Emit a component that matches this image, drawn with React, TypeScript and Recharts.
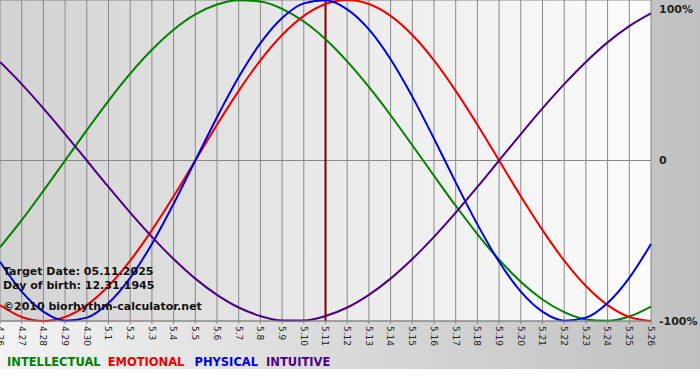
import { LineChart, Line, XAxis, YAxis, CartesianGrid, ReferenceLine } from "recharts";

const dates = [
  "4.26", "4.27", "4.28", "4.29", "4.30",
  "5.1", "5.2", "5.3", "5.4", "5.5", "5.6", "5.7", "5.8", "5.9", "5.10",
  "5.11", "5.12", "5.13", "5.14", "5.15", "5.16", "5.17", "5.18", "5.19", "5.20",
  "5.21", "5.22", "5.23", "5.24", "5.25", "5.26",
];

// percent values read per day
const intellectual = [-54.1, -37.2, -18.9, 0, 18.9, 37.2, 54.1, 69.0, 81.5, 91.0, 97.2, 99.9, 99.0, 94.5, 86.6, 75.6, 61.8, 45.8, 28.2, 9.5, -9.5, -28.2, -45.8, -61.8, -75.6, -86.6, -94.5, -99.0, -99.9, -97.2, -91.0];
const emotional = [-90.1, -97.5, -100, -97.5, -90.1, -78.2, -62.4, -43.4, -22.3, 0, 22.3, 43.4, 62.4, 78.2, 90.1, 97.5, 100, 97.5, 90.1, 78.2, 62.4, 43.4, 22.3, 0, -22.3, -43.4, -62.4, -78.2, -90.1, -97.5, -100];
const physical = [-63.1, -81.7, -94.2, -99.8, -97.9, -88.8, -73.1, -52.0, -27.0, 0, 27.0, 52.0, 73.1, 88.8, 97.9, 99.8, 94.2, 81.7, 63.1, 39.8, 13.6, -13.6, -39.8, -63.1, -81.7, -94.2, -99.8, -97.9, -88.8, -73.1, -52.0];
const intuitive = [61.4, 47.6, 32.5, 16.5, 0, -16.5, -32.5, -47.6, -61.4, -73.6, -83.7, -91.6, -96.9, -99.7, -99.7, -96.9, -91.6, -83.7, -73.6, -61.4, -47.6, -32.5, -16.5, 0, 16.5, 32.5, 47.6, 61.4, 73.6, 83.7, 91.6];

const yTicks = [-100, 0, 100];
const targetDate = "5.11";
const infoLines = ["Target Date: 05.11.2025", "Day of birth: 12.31.1945", "©2010 biorhythm-calculator.net"];

const series = [
  { key: "intellectual", name: "INTELLECTUAL", color: "#008000", gap: 7 },
  { key: "emotional", name: "EMOTIONAL", color: "#ee0000", gap: 10 },
  { key: "physical", name: "PHYSICAL", color: "#0000dd", gap: 8 },
  { key: "intuitive", name: "INTUITIVE", color: "#4b0082", gap: 0 },
];

const data = dates.map((d, i) => ({
  date: d,
  intellectual: intellectual[i],
  emotional: emotional[i],
  physical: physical[i],
  intuitive: intuitive[i],
}));

const font = "'DejaVu Sans', Verdana, sans-serif";

function DateTick(props: any) {
  const { x, y, payload } = props;
  return (
    <g transform={`translate(${x},${y})`}>
      <text transform="rotate(90)" dy="0.35em" textAnchor="start" fontSize={9} fill="#222" fontFamily={font}>
        {payload.value}
      </text>
    </g>
  );
}

function PctTick(props: any) {
  const { x, y, payload } = props;
  const v = payload.value;
  return (
    <text x={x} y={Math.max(y, 8)} dy="0.35em" textAnchor="start" fontSize={11} fontWeight="bold" fill="#222" fontFamily={font}>
      {v === 0 ? "0" : `${v}%`}
    </text>
  );
}

export default function App() {
  return (
    <div style={{
      position: "fixed",
      left: 0,
      top: 0,
      width: 700,
      height: 369,
      background: "linear-gradient(to right, #f2f2f2, #c0c0c0)",
    }}>
      <LineChart width={700} height={369} data={data} margin={{ top: 0, right: 0, left: 0, bottom: 0 }}>
        <defs>
          <linearGradient id="plotBg" x1="0" y1="0" x2="1" y2="0">
            <stop offset="0%" stopColor="#d2d2d2" />
            <stop offset="55%" stopColor="#ececec" />
            <stop offset="100%" stopColor="#fcfcfc" />
          </linearGradient>
        </defs>
        <CartesianGrid stroke="#888" fill="url(#plotBg)" fillOpacity={1} />
        <XAxis
          dataKey="date"
          interval={0}
          tickSize={3}
          tick={<DateTick />}
          tickLine={{ stroke: "#888" }}
          axisLine={{ stroke: "#888" }}
          height={48}
        />
        <YAxis
          orientation="right"
          domain={[-100, 100]}
          ticks={yTicks}
          width={49}
          axisLine={false}
          tickLine={false}
          tick={<PctTick />}
        />
        <ReferenceLine x={targetDate} stroke="#800000" strokeWidth={2} />
        {series.map((s) => (
          <Line
            key={s.key}
            type="monotone"
            dataKey={s.key}
            stroke={s.color}
            strokeWidth={2}
            dot={false}
            activeDot={false}
            isAnimationActive={false}
          />
        ))}
      </LineChart>

      <div style={{ position: "absolute", left: 3, top: 265, fontFamily: font, fontSize: 11, fontWeight: "bold", color: "#111", lineHeight: "14px" }}>
        <div>{infoLines[0]}</div>
        <div>{infoLines[1]}</div>
        <div style={{ marginTop: 7 }}>{infoLines[2]}</div>
      </div>

      <div style={{ position: "absolute", left: 7, top: 355, fontFamily: font, fontSize: 11.5, fontWeight: "bold", lineHeight: "14px", whiteSpace: "nowrap" }}>
        {series.map((s) => (
          <span key={s.key} style={{ color: s.color, marginRight: s.gap }}>{s.name}</span>
        ))}
      </div>
    </div>
  );
}
